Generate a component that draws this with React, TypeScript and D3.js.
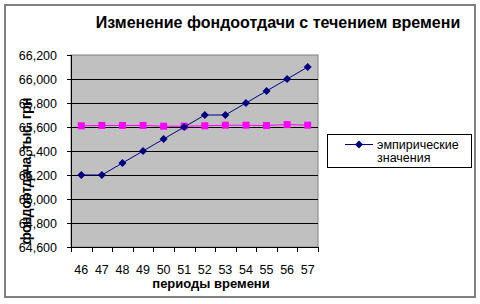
import React from "react";
import * as d3 from "d3";

const periods = ["46", "47", "48", "49", "50", "51", "52", "53", "54", "55", "56", "57"];
const empirical = [65.2, 65.2, 65.3, 65.4, 65.5, 65.6, 65.7, 65.7, 65.8, 65.9, 66.0, 66.1];
const average = [65.61, 65.613, 65.613, 65.613, 65.607, 65.607, 65.61, 65.615, 65.615, 65.612, 65.62, 65.615];
const yTicks = [64.6, 64.8, 65.0, 65.2, 65.4, 65.6, 65.8, 66.0, 66.2];

const W = 480, H = 304;
const plot = { left: 71, right: 318, top: 55, bottom: 247 };
const font = "'Liberation Sans', Arial, sans-serif";

export default function App() {
  const x = d3.scaleBand<string>().domain(periods).range([plot.left, plot.right]).padding(0);
  const y = d3.scaleLinear().domain([64.6, 66.2]).range([plot.bottom, plot.top]);
  const cx = (p: string) => (x(p) as number) + x.bandwidth() / 2;
  const line = d3.line<number>().x((_, i) => cx(periods[i])).y((d) => y(d));
  const label = (v: number) => {
    const s = v.toFixed(3);
    const [a, b] = s.split(".");
    return a + "," + b;
  };
  const diamond = (px: number, py: number, r: number) => `M${px},${py - r}L${px + r},${py}L${px},${py + r}L${px - r},${py}Z`;

  return (
    <div style={{ position: "absolute", left: 0, top: 0 }}>
      <svg width={W} height={H} style={{ display: "block", fontFamily: font }}>
        <rect x={0} y={0} width={W} height={H} fill="#fff" />
        <rect x={5} y={5} width={470} height={292} fill="#fff" stroke="#808080" strokeWidth={2} />
        <text x={278} y={28} textAnchor="middle" fontSize={16} fontWeight="bold" fill="#000">
          Изменение фондоотдачи с течением времени
        </text>
        {/* plot area */}
        <rect x={plot.left} y={plot.top} width={plot.right - plot.left} height={plot.bottom - plot.top} fill="#c0c0c0" stroke="#808080" strokeWidth={1} />
        {yTicks.map((t) => (
          <g key={t}>
            {t > 64.6 && t < 66.2 && (
              <line x1={plot.left} x2={plot.right} y1={Math.round(y(t)) + 0.5} y2={Math.round(y(t)) + 0.5} stroke="#000" strokeWidth={1} />
            )}
            <line x1={plot.left - 4} x2={plot.left} y1={Math.round(y(t)) + 0.5} y2={Math.round(y(t)) + 0.5} stroke="#000" />
            <text x={57} y={y(t) + 4.5} textAnchor="end" fontSize={12.5} fill="#000">
              {label(t)}
            </text>
          </g>
        ))}
        <line x1={plot.left + 0.5} x2={plot.left + 0.5} y1={plot.top} y2={plot.bottom} stroke="#000" />
        <line x1={plot.left} x2={plot.right} y1={plot.bottom + 0.5} y2={plot.bottom + 0.5} stroke="#000" />
        {periods.map((p, i) => (
          <g key={p}>
            <line x1={Math.round(x(p) as number) + 0.5} x2={Math.round(x(p) as number) + 0.5} y1={plot.bottom} y2={plot.bottom + 5} stroke="#000" />
            {i === periods.length - 1 && (
              <line x1={plot.right + 0.5} x2={plot.right + 0.5} y1={plot.bottom} y2={plot.bottom + 5} stroke="#000" />
            )}
            <text x={cx(p)} y={274} textAnchor="middle" fontSize={12.5} fill="#000">
              {p}
            </text>
          </g>
        ))}
        <text x={211} y={288} textAnchor="middle" fontSize={13} fontWeight="bold" fill="#000">
          периоды времени
        </text>
        <text transform={`translate(31,171) rotate(-90)`} textAnchor="middle" fontSize={14} fontWeight="bold" fill="#000" textLength={147} lengthAdjust="spacing">
          фондоотдача, тыс. грн
        </text>
        {/* average series */}
        <path d={line(average) || ""} fill="none" stroke="#ff00ff" strokeWidth={1} />
        {average.map((v, i) => (
          <rect key={i} x={cx(periods[i]) - 3.5} y={y(v) - 3.5} width={7} height={7} fill="#ff00ff" />
        ))}
        {/* empirical series */}
        <path d={line(empirical) || ""} fill="none" stroke="#000080" strokeWidth={1} />
        {empirical.map((v, i) => (
          <path key={i} d={diamond(cx(periods[i]), y(v), 4)} fill="#000080" />
        ))}
        {/* legend */}
        <rect x={327.5} y={134.5} width={144} height={33} fill="#fff" stroke="#000" strokeWidth={1} />
        <line x1={345} x2={373} y1={144.5} y2={144.5} stroke="#000080" />
        <path d={diamond(359, 144.5, 4)} fill="#000080" />
        <text x={377} y={149} fontSize={12.5} fill="#000">
          эмпирические
        </text>
        <text x={377} y={162} fontSize={12.5} fill="#000">
          значения
        </text>
      </svg>
    </div>
  );
}
